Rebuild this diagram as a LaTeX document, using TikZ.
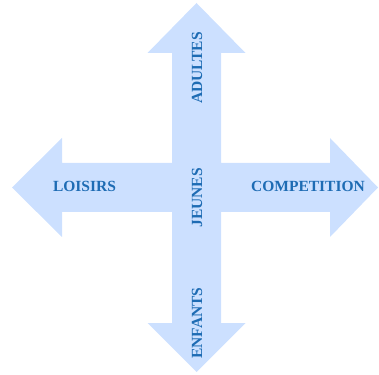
\documentclass[tikz,border=0pt]{standalone}
\usepackage{fontspec}
\setmainfont{Liberation Serif}
\usepackage{tikz}

\definecolor{arrowblue}{RGB}{204,224,255}
\definecolor{textblue}{RGB}{30,108,180}

\tikzset{
  lbl/.style={text=textblue, font=\fontsize{15.5}{18}\selectfont\bfseries, inner sep=0pt},
  vlbl/.style={lbl, rotate=90}
}

\begin{document}
\begin{tikzpicture}[x=1pt,y=1pt]
\useasboundingbox (0,0) rectangle (379,374);

% the four arrows in one shape
\fill [arrowblue] (196.5,371) -- (245.5,321) -- (221,321) -- (221,211)
  -- (330,211) -- (330,236) -- (378,186.5) -- (330,137) -- (330,162)
  -- (221,162) -- (221,51) -- (245.5,51) -- (196.5,2) -- (147.5,51)
  -- (172,51) -- (172,162) -- (62,162) -- (62,137) -- (12,186.5)
  -- (62,236) -- (62,211) -- (172,211) -- (172,321) -- (147.5,321) -- cycle;

\node [vlbl] (adultes) at (197,306) {ADULTES};
\node [vlbl] (jeunes) at (197,176) {JEUNES};
\node [vlbl] (enfants) at (197,51) {ENFANTS};
\node [lbl] (loisirs) at (84.5,187.5) {LOISIRS};
\node [lbl] (competition) at (308,187.5) {COMPETITION};
\end{tikzpicture}
\end{document}
